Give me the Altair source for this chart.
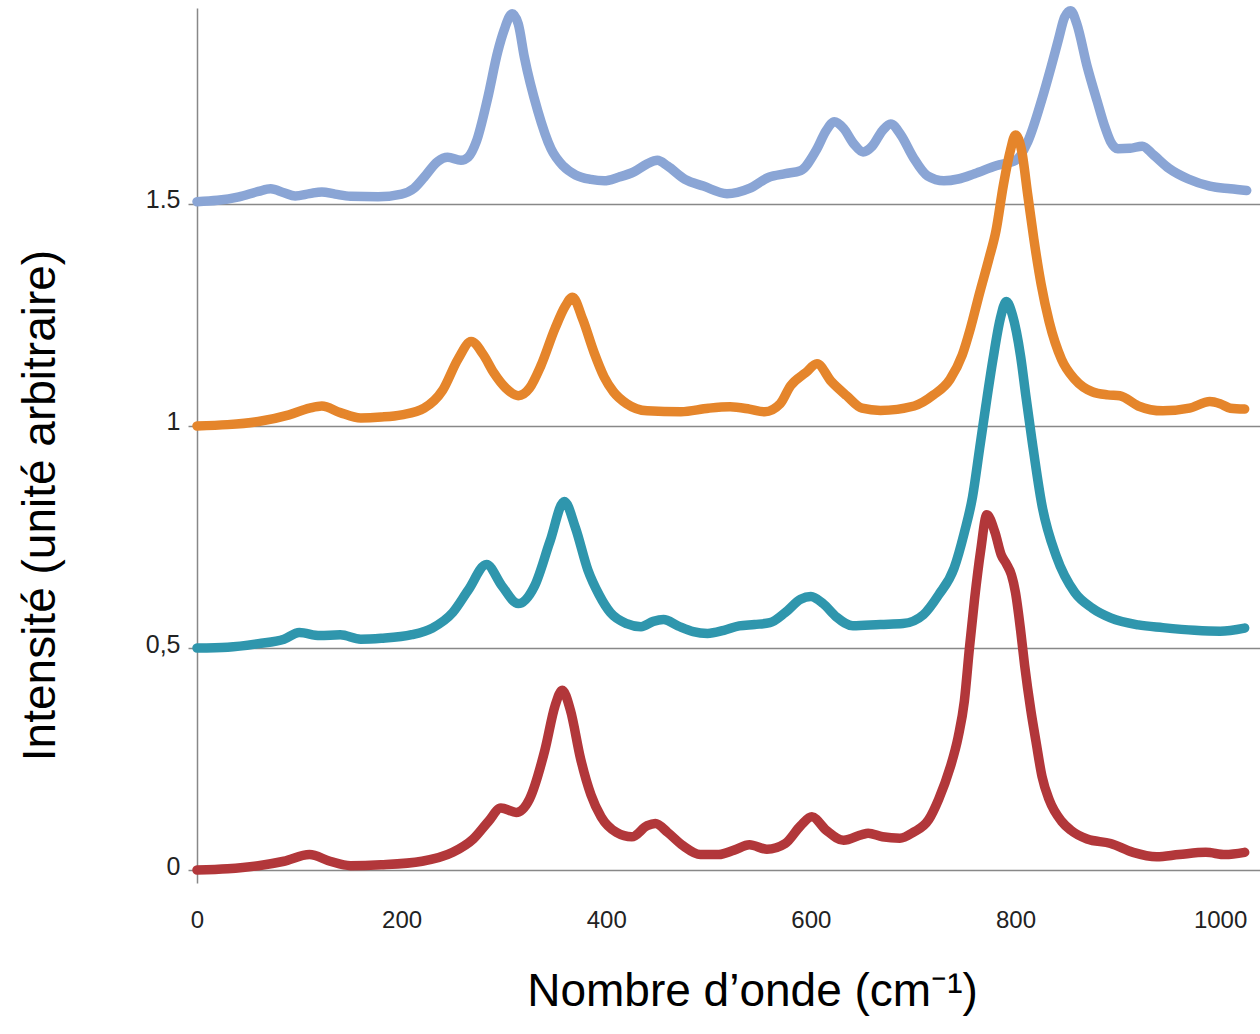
import altair as alt
import pandas as pd

# ---- data ----
x_blue = [0, 20, 41, 60, 72, 85, 96, 110, 122, 135, 150, 177, 200, 212, 222, 235, 245, 258, 265, 273,
          284, 294, 300, 308, 314, 320, 333, 346, 358, 370, 385, 398, 412, 427, 440, 450, 460, 477,
          495, 518, 540, 559, 575, 590, 605, 615, 623, 632, 642, 651, 660, 670, 678, 688, 700, 714,
          730, 744, 760, 781, 800, 812, 826, 835, 842, 848, 854, 860, 870, 880, 887, 893, 900, 912,
          924, 935, 950, 969, 990, 1010, 1026]
y_blue = [1.505, 1.508, 1.516, 1.528, 1.534, 1.525, 1.518, 1.523, 1.527, 1.522, 1.517, 1.516, 1.522,
          1.535, 1.56, 1.595, 1.605, 1.598, 1.605, 1.64, 1.737, 1.843, 1.89, 1.928, 1.905, 1.83, 1.71,
          1.624, 1.585, 1.565, 1.555, 1.552, 1.56, 1.572, 1.59, 1.598, 1.585, 1.555, 1.54, 1.523,
          1.535, 1.56, 1.568, 1.575, 1.62, 1.665, 1.685, 1.67, 1.635, 1.617, 1.63, 1.665, 1.68, 1.655,
          1.605, 1.563, 1.552, 1.556, 1.568, 1.586, 1.598, 1.64, 1.737, 1.81, 1.87, 1.92, 1.935, 1.905,
          1.81, 1.73, 1.676, 1.64, 1.624, 1.625, 1.63, 1.61, 1.58, 1.556, 1.54, 1.534, 1.53]

x_orange = [0, 30, 60, 90, 110, 122, 140, 160, 180, 200, 222, 240, 255, 268, 280, 290, 302, 314, 325,
            336, 350, 360, 367, 377, 388, 398, 407, 420, 440, 473, 500, 521, 540, 555, 570, 580, 595,
            606, 620, 635, 650, 668, 701, 720, 736, 748, 756, 765, 774, 781, 788, 795, 800, 806, 812,
            818, 825, 833, 845, 858, 875, 890, 902, 920, 944, 970, 990, 1000, 1010, 1024]
y_orange = [1.0, 1.003, 1.01, 1.025, 1.04, 1.045, 1.03, 1.018, 1.02, 1.025, 1.04, 1.08, 1.15, 1.19,
            1.16, 1.12, 1.085, 1.068, 1.085, 1.135, 1.22, 1.27, 1.29, 1.24, 1.166, 1.11, 1.077, 1.05,
            1.034, 1.032, 1.04, 1.043, 1.038, 1.032, 1.05, 1.09, 1.12, 1.14, 1.1, 1.068, 1.04, 1.035,
            1.045, 1.07, 1.105, 1.16, 1.22, 1.3, 1.376, 1.44, 1.54, 1.62, 1.655, 1.62, 1.52, 1.42, 1.32,
            1.234, 1.15, 1.105, 1.077, 1.07, 1.068, 1.045, 1.034, 1.04, 1.055, 1.05, 1.04, 1.038]

x_teal = [0, 30, 60, 85, 100, 120, 140, 160, 180, 210, 230, 250, 265, 283, 298, 314, 330, 345, 359,
          370, 382, 393, 404, 420, 434, 446, 456, 470, 485, 499, 515, 530, 545, 560, 575, 590, 600,
          612, 625, 641, 668, 690, 710, 725, 740, 750, 758, 765, 771, 778, 785, 791, 797, 805, 810,
          816, 826, 840, 858, 875, 893, 920, 944, 975, 1000, 1024]
y_teal = [0.5, 0.502, 0.51, 0.52, 0.535, 0.528, 0.53, 0.52, 0.522, 0.53, 0.545, 0.58, 0.63, 0.688,
          0.64, 0.6, 0.64, 0.74, 0.83, 0.77, 0.676, 0.62, 0.58, 0.555, 0.548, 0.56, 0.564, 0.55, 0.537,
          0.533, 0.54, 0.55, 0.553, 0.557, 0.58, 0.61, 0.616, 0.6, 0.57, 0.55, 0.553, 0.555, 0.575,
          0.62, 0.68, 0.76, 0.84, 0.95, 1.045, 1.15, 1.24, 1.28, 1.25, 1.157, 1.07, 0.97, 0.82, 0.706,
          0.625, 0.59, 0.568, 0.552, 0.546, 0.54, 0.538, 0.545]

x_red = [0, 30, 60, 85, 110, 130, 150, 180, 220, 250, 270, 285, 297, 312, 325, 340, 350, 357, 365,
         375, 385, 395, 410, 425, 440, 448, 460, 475, 492, 510, 525, 540, 557, 575, 590, 601, 615,
         632, 650, 656, 670, 687, 700, 715, 725, 736, 744, 750, 755, 760, 766, 772, 780, 786, 791,
         796, 800, 805, 809, 815, 820, 826, 833, 845, 854, 870, 893, 915, 938, 960, 986, 1005, 1024]
y_red = [0.0, 0.003, 0.01, 0.02, 0.035, 0.02, 0.01, 0.012, 0.02, 0.04, 0.07, 0.11, 0.14, 0.13, 0.16,
         0.27, 0.37, 0.405, 0.36, 0.25, 0.17, 0.12, 0.085, 0.075, 0.1, 0.105, 0.085, 0.055, 0.035,
         0.035, 0.045, 0.057, 0.047, 0.06, 0.1, 0.12, 0.09, 0.067, 0.08, 0.083, 0.075, 0.072, 0.085,
         0.113, 0.16, 0.23, 0.3, 0.38, 0.5, 0.61, 0.72, 0.8, 0.76, 0.71, 0.69, 0.665, 0.625, 0.54,
         0.46, 0.36, 0.29, 0.21, 0.158, 0.11, 0.09, 0.07, 0.06, 0.04, 0.03, 0.035, 0.04, 0.035, 0.04]

series_names = ["s1", "s2", "s3", "s4"]
series_colors = ["#8AA5D5", "#E5852B", "#2F96AD", "#B2373A"]

x_ticks = [0, 200, 400, 600, 800, 1000]
y_ticks = [0, 0.5, 1, 1.5]
y_tick_labels = ["0", "0,5", "1", "1.5"]

frames = []
for name, xs, ys in zip(series_names, [x_blue, x_orange, x_teal, x_red],
                        [y_blue, y_orange, y_teal, y_red]):
    frames.append(pd.DataFrame({"x": xs, "y": ys, "serie": name, "order": range(len(xs))}))
df = pd.concat(frames, ignore_index=True)

label_expr = " : ".join(
    [f"datum.value == {v} ? '{l}'" for v, l in zip(y_ticks, y_tick_labels)]
) + " : datum.label"

chart = alt.Chart(df).mark_line(strokeWidth=9.5, interpolate="monotone",
                                strokeCap="round", strokeJoin="round").encode(
    x=alt.X("x:Q", scale=alt.Scale(domain=[0, 1039], nice=False, zero=False),
            axis=alt.Axis(values=x_ticks, format="d", domain=False, ticks=False, grid=False,
                          labelFont="Liberation Sans", labelFontSize=24, labelColor="#222222",
                          labelPadding=25, labelFlush=False,
                          title="Nombre d’onde (cm⁻¹)", titleFont="Liberation Sans",
                          titleFontSize=46, titleFontWeight="normal", titleColor="#000000",
                          titleX=555, titleY=122, titleBaseline="alphabetic",
                          titleAlign="center")),
    y=alt.Y("y:Q", scale=alt.Scale(domain=[-0.029, 1.941], nice=False, zero=False),
            axis=alt.Axis(values=y_ticks, labelExpr=label_expr, domain=True,
                          domainColor="#888888", domainWidth=1.5,
                          ticks=True, tickSize=9, tickColor="#888888", tickWidth=1.5,
                          grid=True, gridColor="#888888", gridWidth=1.5,
                          labelFont="Liberation Sans", labelFontSize=25, labelColor="#222222",
                          labelPadding=8, labelOffset=-4,
                          title="Intensité (unité arbitraire)", titleFont="Liberation Sans",
                          titleFontSize=46, titleFontWeight="normal", titleColor="#000000",
                          titleAngle=270, titleX=-157, titleY=497, titleBaseline="middle",
                          titleAlign="center")),
    color=alt.Color("serie:N", scale=alt.Scale(domain=series_names, range=series_colors),
                    legend=None),
    order="order:Q",
).properties(
    width=1063, height=875,
    autosize=alt.AutoSizeParams(type="none"),
    padding={"left": 197, "top": 8, "right": 0, "bottom": 151},
    background="#ffffff",
).configure_view(stroke=None)

chart.save("out.html", embed_options={"renderer": "svg", "actions": False})
